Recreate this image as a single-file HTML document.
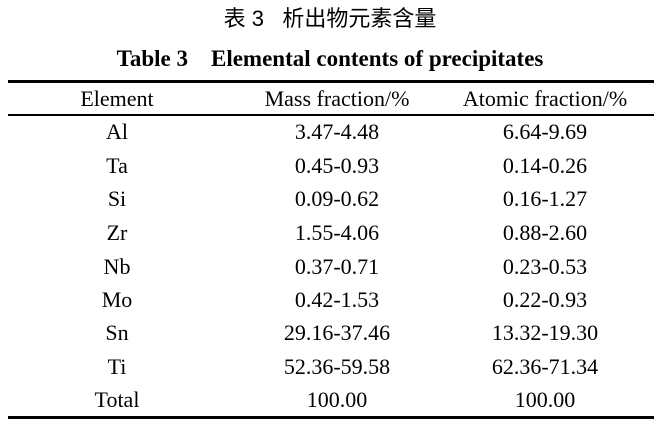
<!DOCTYPE html>
<html><head><meta charset="utf-8"><style>
body{margin:0;width:659px;height:429px;background:#fff;position:relative;overflow:hidden;font-family:"Liberation Serif",serif;color:#000}
.t{position:absolute;white-space:nowrap;transform:translate(-50%,-50%);font-size:22px}
.l{position:absolute;left:8px;width:646px;background:#000}
</style></head><body>
<div class="t" style="left:330px;top:17px;font-family:'Liberation Sans','Noto Sans CJK SC',sans-serif;font-size:22px">表 3&nbsp;&nbsp;&nbsp;析出物元素含量</div>
<div class="t" style="left:330px;top:59px;font-weight:bold;font-size:23px">Table 3&nbsp;&nbsp;&nbsp;&nbsp;Elemental contents of precipitates</div>
<div class="l" style="top:80px;height:3px"></div>
<div class="l" style="top:114px;height:2px"></div>
<div class="l" style="top:416px;height:3px"></div>
<div class="t" style="left:117px;top:99px">Element</div>
<div class="t" style="left:337px;top:99px">Mass fraction/%</div>
<div class="t" style="left:545px;top:99px">Atomic fraction/%</div>
<div class="t" style="left:117px;top:132px">Al</div><div class="t" style="left:337px;top:132px">3.47-4.48</div><div class="t" style="left:545px;top:132px">6.64-9.69</div>
<div class="t" style="left:117px;top:166px">Ta</div><div class="t" style="left:337px;top:166px">0.45-0.93</div><div class="t" style="left:545px;top:166px">0.14-0.26</div>
<div class="t" style="left:117px;top:199px">Si</div><div class="t" style="left:337px;top:199px">0.09-0.62</div><div class="t" style="left:545px;top:199px">0.16-1.27</div>
<div class="t" style="left:117px;top:233px">Zr</div><div class="t" style="left:337px;top:233px">1.55-4.06</div><div class="t" style="left:545px;top:233px">0.88-2.60</div>
<div class="t" style="left:117px;top:267px">Nb</div><div class="t" style="left:337px;top:267px">0.37-0.71</div><div class="t" style="left:545px;top:267px">0.23-0.53</div>
<div class="t" style="left:117px;top:300px">Mo</div><div class="t" style="left:337px;top:300px">0.42-1.53</div><div class="t" style="left:545px;top:300px">0.22-0.93</div>
<div class="t" style="left:117px;top:333px">Sn</div><div class="t" style="left:337px;top:333px">29.16-37.46</div><div class="t" style="left:545px;top:333px">13.32-19.30</div>
<div class="t" style="left:117px;top:367px">Ti</div><div class="t" style="left:337px;top:367px">52.36-59.58</div><div class="t" style="left:545px;top:367px">62.36-71.34</div>
<div class="t" style="left:117px;top:400px">Total</div><div class="t" style="left:337px;top:400px">100.00</div><div class="t" style="left:545px;top:400px">100.00</div>
</body></html>
